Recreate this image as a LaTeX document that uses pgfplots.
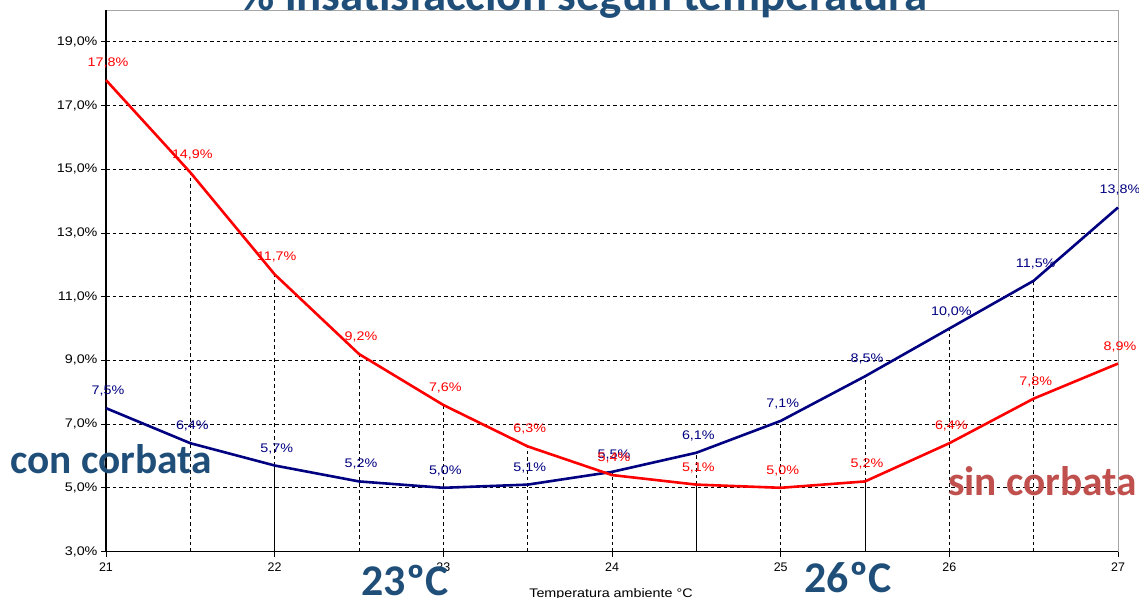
\documentclass[border=0pt]{standalone}
\usepackage{pgfplots}
\pgfplotsset{compat=1.18}
\usepackage{graphicx}
\usepackage{fontspec}
\setmainfont{Liberation Sans}
\newfontfamily\carlito{Carlito}
\definecolor{navyline}{HTML}{000080}
\definecolor{titleblue}{HTML}{1F4E79}
\definecolor{sinred}{HTML}{C0504D}
\newcommand\sx[1]{\scalebox{1.15}[1]{#1}}

\pgfplotstableread{
x y
21 17.8
21.5 14.9
22 11.7
22.5 9.2
23 7.6
23.5 6.3
24 5.4
24.5 5.1
25 5.0
25.5 5.2
26 6.4
26.5 7.8
27 8.9
}\sincorbata

\pgfplotstableread{
x y
21 7.5
21.5 6.4
22 5.7
22.5 5.2
23 5.0
23.5 5.1
24 5.5
24.5 6.1
25 7.1
25.5 8.5
26 10.0
26.5 11.5
27 13.8
}\concorbata

\begin{document}
\begin{tikzpicture}[x=1bp,y=1bp]
\begin{axis}[
  at={(106bp,-551.5bp)}, anchor=south west,
  scale only axis, width=1012bp, height=541.5bp,
  xmin=21, xmax=27, ymin=3, ymax=20,
  clip=false,
  axis line style={draw=gray!70, line width=1bp},
  xtick={21,...,27}, ytick={3,5,...,19},
  tick align=outside, xtick pos=left, ytick pos=left,
  major tick length=5bp,
  tick style={black, line width=0.8bp},
  ymajorgrids,
  grid style={black, dash pattern=on 3.5bp off 3bp, line width=0.9bp},
  /pgf/number format/assume math mode=true,
  yticklabel={\sx{\pgfmathprintnumber[fixed,fixed zerofill,precision=1,use comma]{\tick}\%}},
  xticklabel={\pgfmathprintnumber{\tick}},
  ticklabel style={font=\fontsize{12.5}{13}\selectfont, black},
  xticklabel style={yshift=-3bp},
  every node near coord/.append style={font=\fontsize{12.5}{13}\selectfont, anchor=base, yshift=13.5bp, xshift=2bp, inner sep=0pt},
]
% drop lines (dashed)
\addplot[black, dash pattern=on 3.5bp off 3bp, line width=0.9bp, unbounded coords=jump, forget plot] table {
x y
21.5 3
21.5 14.9
21.5 nan
22 5.7
22 11.7
22 nan
22.5 3
22.5 9.2
22.5 nan
23 3
23 7.6
23 nan
23.5 3
23.5 6.3
23.5 nan
24 3
24 5.5
24 nan
24.5 5.1
24.5 6.1
24.5 nan
25 3
25 7.1
25 nan
25.5 5.2
25.5 8.5
25.5 nan
26 3
26 10.0
26 nan
26.5 3
26.5 11.5
};
% drop lines (solid)
\addplot[black, line width=1bp, unbounded coords=jump, forget plot] table {
x y
22 3
22 5.7
22 nan
24.5 3
24.5 5.1
24.5 nan
25.5 3
25.5 5.2
};
\draw[black, line width=1.2bp] (rel axis cs:0,1) -- (rel axis cs:0,0) -- (rel axis cs:1,0);
% series
\addplot[navyline, line width=2.6bp, nodes near coords={\sx{\pgfmathprintnumber[fixed,fixed zerofill,precision=1,use comma]{\pgfplotspointmeta}\%}},
  every node near coord/.append style={text=navyline}] table {\concorbata};
\addplot[red, line width=2.6bp, nodes near coords={\sx{\pgfmathprintnumber[fixed,fixed zerofill,precision=1,use comma]{\pgfplotspointmeta}\%}},
  every node near coord/.append style={text=red}] table {\sincorbata};
\end{axis}
% x axis title
\node[anchor=base, inner sep=0pt, font=\fontsize{12.5}{13}\selectfont] at (611bp,-597bp) {\scalebox{1.15}[1]{Temperatura ambiente °C}};
% annotations
\node[anchor=base west, inner sep=0pt, text=titleblue, font=\carlito\bfseries\fontsize{41.5}{44}\selectfont] at (10bp,-473bp) {con corbata};
\node[anchor=base west, inner sep=0pt, text=sinred, font=\carlito\bfseries\fontsize{41.5}{44}\selectfont] at (948bp,-495bp) {sin corbata};
\node[anchor=base, inner sep=0pt, text=titleblue, font=\carlito\bfseries\fontsize{44}{46}\selectfont] at (405bp,-595bp) {23ºC};
\node[anchor=base, inner sep=0pt, text=titleblue, font=\carlito\bfseries\fontsize{44}{46}\selectfont] at (848bp,-592bp) {26ºC};
\node[anchor=base, inner sep=0pt, text=titleblue, font=\carlito\bfseries\fontsize{47}{50}\selectfont] at (584bp,-10.5bp) {\% insatisfacción según temperatura};
\pgfresetboundingbox
\useasboundingbox (0,0) rectangle (1139bp,-598bp);
\end{tikzpicture}
\end{document}
